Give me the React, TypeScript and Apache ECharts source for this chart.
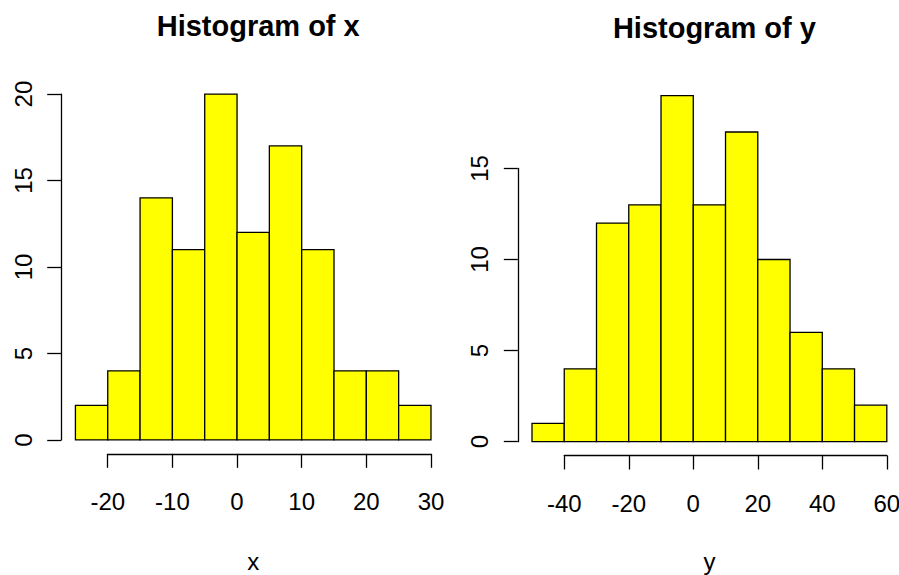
import React, { useEffect, useRef } from "react";
import * as echarts from "echarts";

// Histogram bin edges and counts
const xBreaks = [-25, -20, -15, -10, -5, 0, 5, 10, 15, 20, 25, 30];
const xCounts = [2, 4, 14, 11, 20, 12, 17, 11, 4, 4, 2];
const yBreaks = [-50, -40, -30, -20, -10, 0, 10, 20, 30, 40, 50, 60];
const yCounts = [1, 4, 12, 13, 19, 13, 17, 10, 6, 4, 2];

// Axis tick settings
const xTickRange = [-20, 30];
const xTickStep = 10;
const yTickRange = [-40, 60];
const yTickStep = 20;
const xCountTickMax = 20;
const yCountTickMax = 15;
const countTickStep = 5;

const titles = ["Histogram of x", "Histogram of y"];
const axisNames = ["x", "y"];

const FONT = "'Liberation Sans', Arial, Helvetica, sans-serif";
const FILL = "#FFFF00";

type Panel = {
  breaks: number[];
  counts: number[];
  tickRange: number[];
  tickStep: number;
  countTickMax: number;
  title: string;
  name: string;
  // plot region in pixels
  left: number;
  right: number;
  top: number;
  bottom: number;
  titleTop: number;
};

const panels: Panel[] = [
  {
    breaks: xBreaks,
    counts: xCounts,
    tickRange: xTickRange,
    tickStep: xTickStep,
    countTickMax: xCountTickMax,
    title: titles[0],
    name: axisNames[0],
    left: 61.2,
    right: 445.2,
    top: 80.2,
    bottom: 453.8,
    titleTop: 6,
  },
  {
    breaks: yBreaks,
    counts: yCounts,
    tickRange: yTickRange,
    tickStep: yTickStep,
    countTickMax: yCountTickMax,
    title: titles[1],
    name: axisNames[1],
    left: 517.8,
    right: 901.0,
    top: 81.7,
    bottom: 455.5,
    titleTop: 8,
  },
];

export default function App() {
  const ref = useRef<HTMLDivElement>(null);

  useEffect(() => {
    if (!ref.current) return;
    const chart = echarts.init(ref.current, null, { renderer: "svg" });

    const grid: any[] = [];
    const xAxis: any[] = [];
    const yAxis: any[] = [];
    const series: any[] = [];
    const title: any[] = [];
    const graphic: any[] = [];

    panels.forEach((p) => {
      // R-style limits: data range padded by 4% on each side
      const lo = p.breaks[0];
      const hi = p.breaks[p.breaks.length - 1];
      const padX = (hi - lo) * 0.04;
      const cMax = Math.max(...p.counts);
      const padY = cMax * 0.04;
      const xMin = lo - padX;
      const xMax = hi + padX;
      const yMin = -padY;
      const yMax = cMax + padY;
      const w = p.right - p.left;
      const h = p.bottom - p.top;
      const px = (v: number) => p.left + ((v - xMin) / (xMax - xMin)) * w;
      const py = (v: number) => p.bottom - ((v - yMin) / (yMax - yMin)) * h;

      // data grid
      const gData = grid.length;
      grid.push({ left: p.left, top: p.top, width: w, height: h, outerBoundsMode: "none" });
      xAxis.push({ gridIndex: gData, type: "value", min: xMin, max: xMax, show: false });
      yAxis.push({ gridIndex: gData, type: "value", min: yMin, max: yMax, show: false });
      series.push({
        type: "custom",
        xAxisIndex: xAxis.length - 1,
        yAxisIndex: yAxis.length - 1,
        clip: false,
        encode: { x: [0, 1], y: 2 },
        data: p.counts.map((c, i) => [p.breaks[i], p.breaks[i + 1], c]),
        renderItem: (params: any, api: any) => {
          const a = api.coord([api.value(0), 0]);
          const b = api.coord([api.value(1), api.value(2)]);
          return {
            type: "rect",
            shape: { x: a[0], y: b[1], width: b[0] - a[0], height: a[1] - b[1] },
            style: { fill: FILL, stroke: "#000", lineWidth: 1.3 },
          };
        },
      });

      // horizontal axis spanning first to last tick
      const gX = grid.length;
      const x0 = px(p.tickRange[0]);
      const x1 = px(p.tickRange[1]);
      grid.push({ left: x0, top: p.top, width: x1 - x0, height: h, outerBoundsMode: "none" });
      xAxis.push({
        gridIndex: gX,
        type: "value",
        min: p.tickRange[0],
        max: p.tickRange[1],
        interval: p.tickStep,
        axisLine: { show: true, lineStyle: { color: "#000", width: 1.3 } },
        axisTick: { show: true, length: 14, inside: false, lineStyle: { color: "#000", width: 1.3 } },
        axisLabel: { show: true, fontSize: 24, fontFamily: FONT, color: "#000", margin: 36, showMinLabel: true, showMaxLabel: true, hideOverlap: false },
        splitLine: { show: false },
      });
      yAxis.push({ gridIndex: gX, type: "value", min: 0, max: 1, show: false });

      // vertical count axis spanning 0 to last tick
      const gY = grid.length;
      const y0 = py(0);
      const y1 = py(p.countTickMax);
      grid.push({ left: p.left, top: y1, width: w, height: y0 - y1, outerBoundsMode: "none" });
      xAxis.push({ gridIndex: gY, type: "value", min: 0, max: 1, show: false });
      yAxis.push({
        gridIndex: gY,
        type: "value",
        min: 0,
        max: p.countTickMax,
        interval: countTickStep,
        axisLine: { show: true, lineStyle: { color: "#000", width: 1.3 } },
        axisTick: { show: true, length: 14, inside: false, lineStyle: { color: "#000", width: 1.3 } },
        axisLabel: { show: true, rotate: 90, fontSize: 24, fontFamily: FONT, color: "#000", margin: 26, showMinLabel: true, showMaxLabel: true, hideOverlap: false },
        splitLine: { show: false },
      });

      const cx = (p.left + p.right) / 2;
      title.push({
        text: p.title,
        left: cx,
        top: p.titleTop,
        textAlign: "center",
        textStyle: { fontSize: 29, fontWeight: "bold", fontFamily: FONT, color: "#000" },
      });
      graphic.push({
        type: "text",
        x: cx,
        y: 561,
        style: { text: p.name, fontSize: 24, fontFamily: FONT, fill: "#000", align: "center", verticalAlign: "middle" },
      });
    });

    chart.setOption({
      animation: false,
      backgroundColor: "#fff",
      title,
      grid,
      xAxis,
      yAxis,
      series,
      graphic,
    });

    return () => chart.dispose();
  }, []);

  return (
    <div
      ref={ref}
      style={{ position: "fixed", left: 0, top: 0, width: 899, height: 575, background: "#fff" }}
    />
  );
}
